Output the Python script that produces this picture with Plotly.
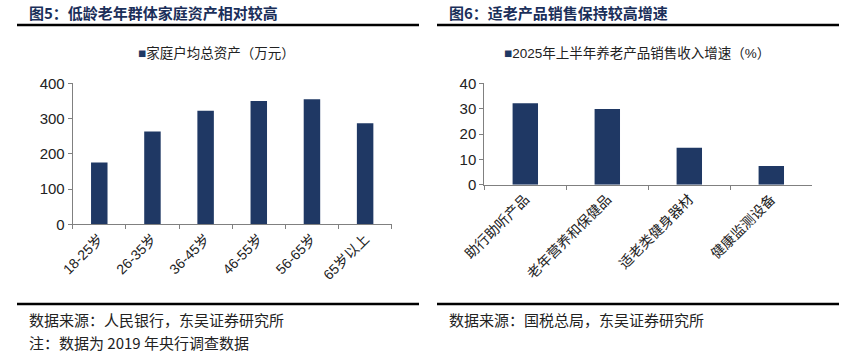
import plotly.graph_objects as go

# ---- data ----
age_groups = ["18-25岁", "26-35岁", "36-45岁", "46-55岁", "56-65岁", "65岁以上"]
household_assets = [175, 263, 322, 350, 355, 287]

product_types = ["助行助听产品", "老年营养和保健品", "适老类健身器材", "健康监测设备"]
sales_growth = [32.1, 29.9, 14.6, 7.4]

left_title = "图5：低龄老年群体家庭资产相对较高"
right_title = "图6：适老产品销售保持较高增速"
left_legend = "家庭户均总资产（万元）"
right_legend = "2025年上半年养老产品销售收入增速（%）"
left_source = "数据来源：人民银行，东吴证券研究所"
left_note = "注：数据为 2019 年央行调查数据"
right_source = "数据来源：国税总局，东吴证券研究所"

W, H = 855, 360
BAR = "#1F3864"
NAVY = "#1B2F5A"
AXIS = "#808080"
TXT = "#222222"
CJK = "Noto Sans CJK SC"
NUM = "Liberation Sans, Noto Sans CJK SC"


def px(x):
    return x / W


def py(y):
    return 1 - y / H


fig = go.Figure()
fig.add_trace(go.Bar(x=age_groups, y=household_assets, marker_color=BAR,
                     marker_line_width=0, xaxis="x", yaxis="y", showlegend=False,
                     name=left_legend))
fig.add_trace(go.Bar(x=product_types, y=sales_growth, marker_color=BAR,
                     marker_line_width=0, xaxis="x2", yaxis="y2", showlegend=False,
                     name=right_legend))

common_x = dict(showline=True, linecolor=AXIS, linewidth=1, ticks="outside",
                tickson="boundaries", ticklen=4, tickcolor=AXIS, tickangle=-45,
                showgrid=False, zeroline=False, automargin=False,
                tickfont=dict(family=NUM, size=14, color=TXT))
common_y = dict(showline=True, linecolor=AXIS, linewidth=1, ticks="outside",
                ticklen=4, tickcolor=AXIS, showgrid=False, zeroline=False,
                automargin=False, tickfont=dict(family=NUM, size=15, color=TXT))

fig.update_layout(
    width=W, height=H, autosize=False,
    margin=dict(l=0, r=0, t=0, b=0),
    paper_bgcolor="white", plot_bgcolor="white",
    bargap=0.69,
    xaxis=dict(domain=[px(72.7), px(391.7)], anchor="y", **common_x),
    yaxis=dict(domain=[py(224.3), py(83.3)], anchor="x", range=[0, 400], dtick=100, **common_y),
    xaxis2=dict(domain=[px(484.3), px(812.3)], anchor="y2", **{**common_x, "tickfont": dict(family=CJK, size=14, color=TXT)}),
    yaxis2=dict(domain=[py(184.7), py(83.3)], anchor="x2", range=[0, 40], dtick=10, **common_y),
)

ann = []
# titles
ann.append(dict(text="<b>" + left_title + "</b>", x=px(27), y=py(13), xref="paper", yref="paper",
                xanchor="left", yanchor="middle", showarrow=False,
                font=dict(family=CJK, size=15, color=NAVY)))
ann.append(dict(text="<b>" + right_title + "</b>", x=px(447), y=py(13), xref="paper", yref="paper",
                xanchor="left", yanchor="middle", showarrow=False,
                font=dict(family=CJK, size=15, color=NAVY)))
# legends
ann.append(dict(text="<span style='color:%s'>■</span>%s" % (BAR, left_legend), x=px(217), y=py(53),
                xref="paper", yref="paper", xanchor="center", yanchor="middle", showarrow=False,
                font=dict(family=NUM, size=13.5, color=TXT)))
ann.append(dict(text="<span style='color:%s'>■</span>%s" % (BAR, right_legend), x=px(637), y=py(53),
                xref="paper", yref="paper", xanchor="center", yanchor="middle", showarrow=False,
                font=dict(family=NUM, size=13.5, color=TXT)))
# sources
for t, x, y in [(left_source, 27, 319), (left_note, 27, 342), (right_source, 447, 319)]:
    ann.append(dict(text=t, x=px(x), y=py(y), xref="paper", yref="paper",
                    xanchor="left", yanchor="middle", showarrow=False,
                    font=dict(family=CJK, size=15, color=TXT)))
fig.update_layout(annotations=ann)

shapes = []
for x0, x1 in [(17, 419), (437, 839)]:
    for y in (25, 304):
        shapes.append(dict(type="line", xref="paper", yref="paper",
                           x0=px(x0), x1=px(x1), y0=py(y), y1=py(y),
                           line=dict(color="black", width=2.5)))
fig.update_layout(shapes=shapes)

fig.write_html("out.html", config={"displayModeBar": False},
               post_script="document.body.style.margin='0';")
